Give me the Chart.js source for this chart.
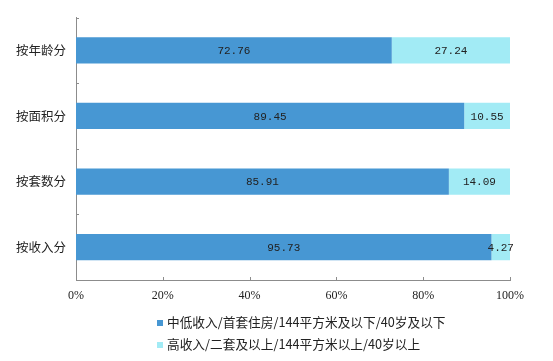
<!DOCTYPE html>
<html>
<head>
<meta charset="utf-8">
<script src="https://cdn.jsdelivr.net/npm/chart.js@4"></script>
<style>
    body { margin: 0; background: #fff; }
    #wrap { position: relative; width: 553px; height: 361px; }
    #legend { position: absolute; left: 157px; top: 313px; font: 12.7px 'Noto Sans CJK SC', sans-serif; color: #222; }
    #legend div { height: 22px; line-height: 18px; white-space: nowrap; }
    #legend span { display: inline-block; width: 6px; height: 6px; margin-right: 4px; vertical-align: 1px; }
</style>
</head>
<body>
<div id="wrap">
    <canvas id="shareChart" width="553" height="361"></canvas>
    <div id="legend"></div>
</div>
<script>
// categories (top to bottom) and the two shares, in percent
const categories = ['按年龄分', '按面积分', '按套数分', '按收入分'];
const lowerShare = [72.76, 89.45, 85.91, 95.73];
const upperShare = [27.24, 10.55, 14.09, 4.27];
const seriesNames = [
    '中低收入/首套住房/144平方米及以下/40岁及以下',
    '高收入/二套及以上/144平方米以上/40岁以上'
];
const xTicks = [0, 20, 40, 60, 80, 100];

const axisColor = '#8c8c8c';

// values written in the middle of each segment
const segmentLabels = {
    id: 'segmentLabels',
    afterDatasetsDraw(chart) {
        const ctx = chart.ctx;
        ctx.save();
        ctx.font = '11px "Liberation Mono", monospace';
        ctx.fillStyle = '#222';
        ctx.textAlign = 'center';
        ctx.textBaseline = 'middle';
        chart.data.datasets.forEach((ds, i) => {
            chart.getDatasetMeta(i).data.forEach((bar, j) => {
                const x = (bar.x + bar.base) / 2;
                ctx.fillText(ds.data[j].toFixed(2), x, bar.y + 1);
            });
        });
        ctx.restore();
    }
};

// short inward tick marks like the original
const innerTicks = {
    id: 'innerTicks',
    afterDraw(chart) {
        const ctx = chart.ctx;
        const xs = chart.scales.x, ys = chart.scales.y;
        const area = chart.chartArea;
        ctx.save();
        ctx.strokeStyle = axisColor;
        ctx.lineWidth = 1;
        ctx.beginPath();
        xTicks.forEach(v => {
            const px = Math.round(xs.getPixelForValue(v)) + 0.5;
            ctx.moveTo(px, area.bottom);
            ctx.lineTo(px, area.bottom - 3);
        });
        for (let i = 0; i <= categories.length; i++) {
            const py = Math.round(ys.getPixelForValue(i - 0.5)) + 0.5;
            ctx.moveTo(area.left, py);
            ctx.lineTo(area.left + 3, py);
        }
        ctx.stroke();
        ctx.restore();
    }
};

const chart = new Chart(document.getElementById('shareChart').getContext('2d'), {
    type: 'bar',
    data: {
        labels: categories,
        datasets: [{
            label: seriesNames[0],
            data: lowerShare,
            backgroundColor: '#4797d3'
        }, {
            label: seriesNames[1],
            data: upperShare,
            backgroundColor: '#a2ebf5'
        }]
    },
    options: {
        indexAxis: 'y',
        responsive: false,
        animation: false,
        layout: { padding: { top: 15, right: 43, bottom: 51, left: 0 } },
        datasets: { bar: { categoryPercentage: 1, barPercentage: 0.4 } },
        scales: {
            x: {
                stacked: true,
                min: 0,
                max: 100,
                afterBuildTicks: s => { s.ticks = xTicks.map(v => ({ value: v })); },
                afterFit: s => { s.height = 30; },
                ticks: {
                    callback: v => v + '%',
                    padding: 9,
                    color: '#222',
                    font: { family: 'Liberation Serif', size: 12 }
                },
                grid: { display: false, drawTicks: false },
                border: { color: axisColor }
            },
            y: {
                stacked: true,
                afterFit: s => { s.width = 76; },
                ticks: {
                    padding: 10,
                    color: '#222',
                    font: { family: 'Noto Sans CJK SC', size: 12.5 }
                },
                grid: { display: false, drawTicks: false },
                border: { color: axisColor }
            }
        },
        plugins: {
            legend: { display: false },
            tooltip: { enabled: false }
        }
    },
    plugins: [segmentLabels, innerTicks]
});

// legend in two rows, built from the datasets
const legendBox = document.getElementById('legend');
chart.data.datasets.forEach(ds => {
    const row = document.createElement('div');
    const mark = document.createElement('span');
    mark.style.background = ds.backgroundColor;
    row.appendChild(mark);
    row.appendChild(document.createTextNode(ds.label));
    legendBox.appendChild(row);
});
</script>
</body>
</html>
